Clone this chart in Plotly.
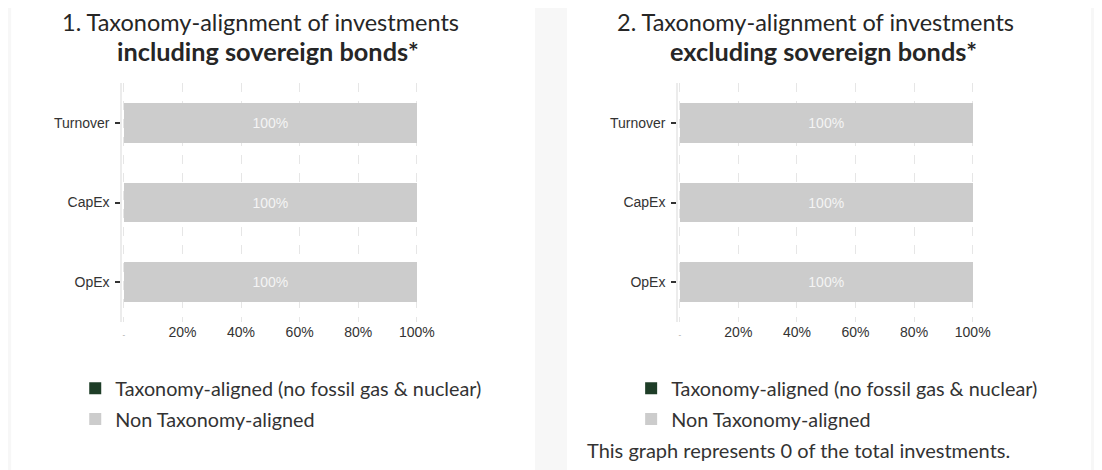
import plotly.graph_objects as go

# ---- data ----
categories = ["Turnover", "CapEx", "OpEx"]
aligned_incl = [0, 0, 0]
non_aligned_incl = [100, 100, 100]
aligned_excl = [0, 0, 0]
non_aligned_excl = [100, 100, 100]
tick_vals = [0, 20, 40, 60, 80, 100]
tick_text = ["<span style='font-size:8px;color:#9a9a9a'>-</span>", "20%", "40%", "60%", "80%", "100%"]
series_names = ["Taxonomy-aligned (no fossil gas & nuclear)", "Non Taxonomy-aligned"]
titles = [("1. Taxonomy-alignment of investments", "including sovereign bonds*"),
          ("2. Taxonomy-alignment of investments", "excluding sovereign bonds*")]
footer = "This graph represents 0 of the total investments."

# page placement helpers (figure sits inside the page's 8px body margin)
M = 8
S = 0.984
FW, FH = 1112, 462
def px(x): return min(1.0, max(0.0, (x / S - M) / FW))
def py(y): return min(1.0, max(0.0, 1 - (y - M) / FH))

GREEN = "#1e3d27"
GREY = "#cccccc"
TXT = "#333333"
LEG_FONT = dict(family="Lato, Open Sans, sans-serif", size=19.8, color=TXT)

fig = go.Figure()
OFF = 555
panels = [(aligned_incl, non_aligned_incl, "x", "y", "legend"),
          (aligned_excl, non_aligned_excl, "x2", "y2", "legend2")]
for al, non, xa, ya, lg in panels:
    fig.add_trace(go.Bar(y=categories, x=al, orientation="h", name=series_names[0],
                         marker=dict(color=GREEN, line=dict(width=0)), xaxis=xa, yaxis=ya,
                         legend=lg, legendgroup=lg + "a", hoverinfo="skip"))
    fig.add_trace(go.Bar(y=categories, x=non, orientation="h", name=series_names[1],
                         marker=dict(color=GREY, line=dict(width=0)), xaxis=xa, yaxis=ya,
                         text=[f"{v}%" for v in non], textposition="inside",
                         insidetextanchor="middle", constraintext="none",
                         textfont=dict(family="Liberation Sans, Arial", size=14, color="#f4f4f4"),
                         legend=lg, legendgroup=lg + "b", hoverinfo="skip"))

def xaxis_cfg(x0):
    return dict(domain=[px(x0 + 122.04), px(x0 + 417.46)], range=[-0.5, 100.5],
                tickvals=tick_vals, ticktext=tick_text, showgrid=True,
                gridcolor="#e6e6e6", griddash="dash", gridwidth=1, zeroline=False,
                showline=False, ticks="", fixedrange=True,
                tickfont=dict(family="Liberation Sans, Arial", size=14, color=TXT))

def yaxis_cfg():
    return dict(domain=[py(322), py(83)], categoryorder="array",
                categoryarray=categories[::-1], showgrid=False, zeroline=False,
                showline=True, linecolor="#ececec", linewidth=2,
                ticks="outside", ticklen=5, tickwidth=1.5, tickcolor=TXT,
                ticklabelstandoff=3,
                tickfont=dict(family="Liberation Sans, Arial", size=14, color=TXT))

fig.update_layout(
    width=FW, height=FH, margin=dict(l=0, r=0, t=0, b=0),
    paper_bgcolor="#f7f7f7", plot_bgcolor="rgba(0,0,0,0)",
    barmode="stack", bargap=0.5,
    xaxis=dict(**xaxis_cfg(0), anchor="y"),
    yaxis=dict(**yaxis_cfg(), anchor="x"),
    xaxis2=dict(**xaxis_cfg(OFF), anchor="y2"),
    yaxis2=dict(**yaxis_cfg(), anchor="x2"),
    legend=dict(x=px(75), y=py(369), xanchor="left", yanchor="top", font=LEG_FONT,
                bgcolor="rgba(0,0,0,0)", tracegroupgap=2, traceorder="grouped"),
    legend2=dict(x=px(75 + OFF), y=py(369), xanchor="left", yanchor="top", font=LEG_FONT,
                 bgcolor="rgba(0,0,0,0)", tracegroupgap=2, traceorder="grouped"),
    shapes=[
        dict(type="rect", xref="paper", yref="paper", x0=px(11), x1=px(534), y0=0, y1=1,
             fillcolor="white", line=dict(width=0), layer="below"),
        dict(type="rect", xref="paper", yref="paper", x0=px(566), x1=px(1089), y0=0, y1=1,
             fillcolor="white", line=dict(width=0), layer="below"),
    ],
)

ann = []
for i, (l1, l2) in enumerate(titles):
    o = i * OFF
    ann.append(dict(text=l1, x=px(259.5 + o), y=py(22), xref="paper", yref="paper",
                    xanchor="center", yanchor="middle", showarrow=False,
                    font=dict(family="Lato, Open Sans, sans-serif", size=23.5, color="#262626")))
    ann.append(dict(text=f"<b>{l2}</b>", x=px(267.5 + o), y=py(51), xref="paper", yref="paper",
                    xanchor="center", yanchor="middle", showarrow=False,
                    font=dict(family="Lato, Open Sans, sans-serif", size=25.3, color="#262626")))
ann.append(dict(text=footer, x=px(584), y=py(450), xref="paper", yref="paper",
                xanchor="left", yanchor="middle", showarrow=False,
                font=dict(family="Lato, Open Sans, sans-serif", size=20, color=TXT)))
fig.update_layout(annotations=ann)

fig.write_html("out.html")
